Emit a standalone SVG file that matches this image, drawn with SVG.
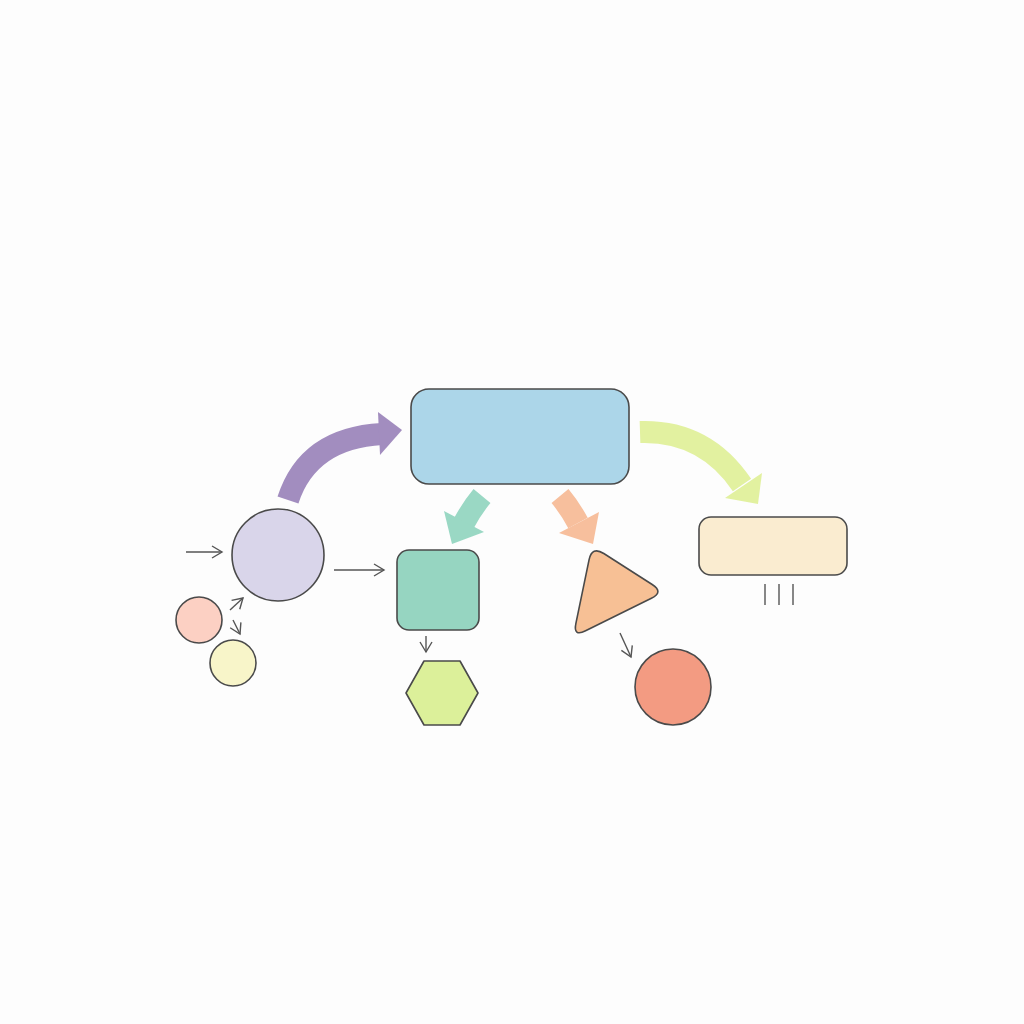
<svg xmlns="http://www.w3.org/2000/svg" width="1024" height="1024" viewBox="0 0 1024 1024">
<defs>
<marker id="open" viewBox="0 0 14 14" refX="12" refY="7" markerWidth="14" markerHeight="14" markerUnits="userSpaceOnUse" orient="auto">
<path d="M2,1 L12,7 L2,13" fill="none" stroke="#555" stroke-width="1.4"/>
</marker>
</defs>
<style>
.n{stroke:#4a4a4a;stroke-width:1.6}
.thin{fill:none;stroke:#555;stroke-width:1.4;marker-end:url(#open)}
.band{fill:none;stroke-linecap:butt}
</style>
<rect width="1024" height="1024" fill="#fdfdfd"/>
<g id="connectors">
<path class="band" d="M288,500 Q308,438 382,434" stroke="#a28dbf" stroke-width="22"/>
<polygon points="378,412 402,430 380,455" fill="#a28dbf"/>
<path class="band" d="M482,496 Q472,508 464,523" stroke="#9ad8c4" stroke-width="22"/>
<polygon points="444,511 484,532 452,544" fill="#9ad8c4"/>
<path class="band" d="M560,496 Q570,508 578,523" stroke="#f7bf9d" stroke-width="22"/>
<polygon points="559,533 599,512 593,544" fill="#f7bf9d"/>
<path class="band" d="M640,432 Q705,430 742,485" stroke="#e2f1a0" stroke-width="22"/>
<polygon points="725,498 762,473 758,504" fill="#e2f1a0"/>
<path class="thin" d="M186,552 L222,552"/>
<path class="thin" d="M334,570 L384,570"/>
<path class="thin" d="M230,610 L243,598"/>
<path class="thin" d="M233,620 L240,634"/>
<path class="thin" d="M426,636 L426,652"/>
<path class="thin" d="M620,633 L631,657"/>
<path d="M765,584 V605 M779,584 V605 M793,584 V605" stroke="#555" stroke-width="1.4" fill="none"/>
</g>
<g id="main"><rect class="n" x="411" y="389" width="218" height="95" rx="18" fill="#acd6e9"/></g>
<g id="purple-circle"><circle class="n" cx="278" cy="555" r="46" fill="#d9d5ea"/></g>
<g id="pink-circle"><circle class="n" cx="199" cy="620" r="23" fill="#fcd0c3"/></g>
<g id="yellow-circle"><circle class="n" cx="233" cy="663" r="23" fill="#f8f5c9"/></g>
<g id="square"><rect class="n" x="397" y="550" width="82" height="80" rx="12" fill="#96d5c1"/></g>
<g id="hexagon"><polygon class="n" points="424,661 460,661 478,693 460,725 424,725 406,693" fill="#dcf09a" stroke-linejoin="round"/></g>
<g id="triangle"><path class="n" d="M603.8,553.5 L652.2,584.5 Q664,592 651.4,598.2 L585.6,630.8 Q573,637 575.9,623.3 L589.1,559.7 Q592,546 603.8,553.5 Z" fill="#f7c095"/></g>
<g id="red-circle"><circle class="n" cx="673" cy="687" r="38" fill="#f39b82"/></g>
<g id="cream-rect"><rect class="n" x="699" y="517" width="148" height="58" rx="12" fill="#faecd0"/></g>
</svg>
